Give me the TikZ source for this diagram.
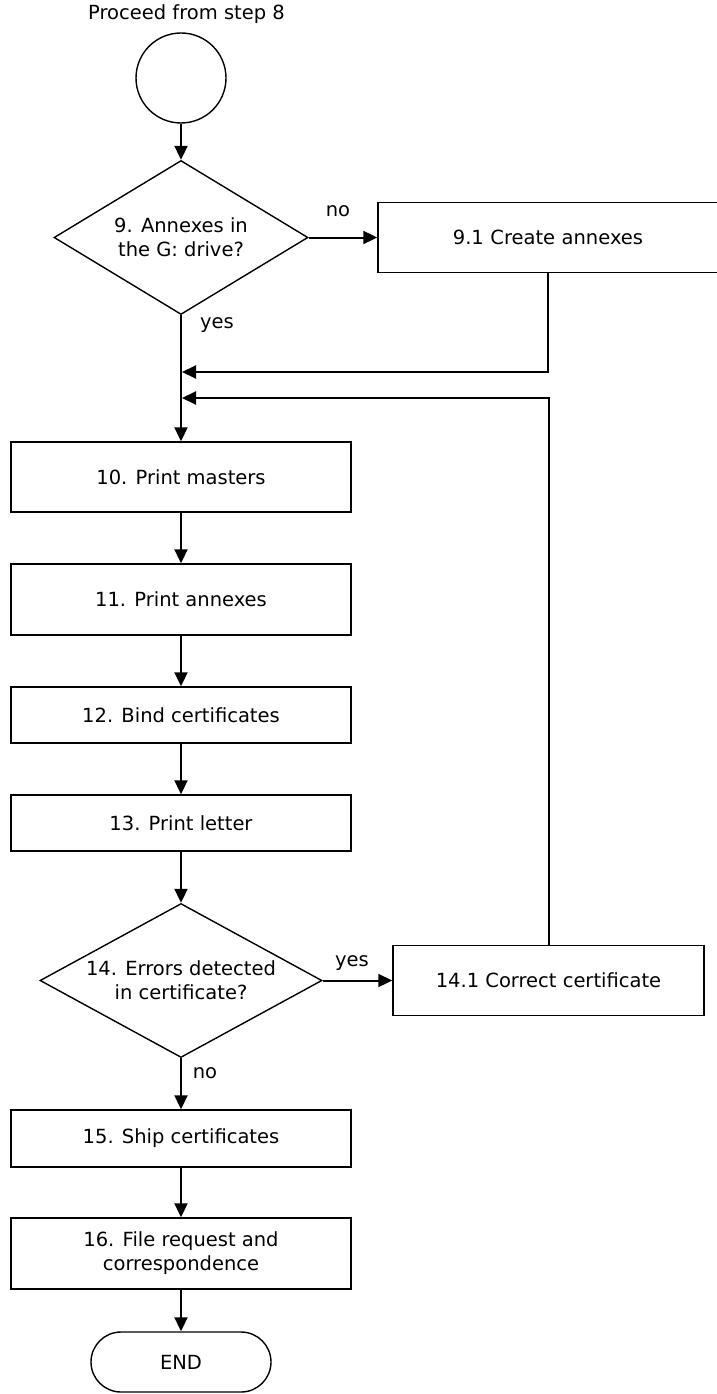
\documentclass[tikz,border=0pt]{standalone}
\usepackage{fontspec}
\setmainfont{DejaVu Sans}
\usetikzlibrary{shapes.geometric,arrows.meta}
\begin{document}
\begin{tikzpicture}[x=1pt,y=-1pt,
  font=\fontsize{19.5}{24}\selectfont,
  stepbox/.style={draw=black,line width=1.4pt,rectangle,inner sep=0pt,align=center},
  decision/.style={draw=black,line width=1.4pt,diamond,inner sep=0pt},
  flow/.style={line width=2pt,-{Triangle[length=14pt,width=13pt]}},
  lbl/.style={inner sep=0pt}]
\useasboundingbox (0,0) rectangle (716,1394);

\node[lbl] (start) at (186.5,14) {Proceed from step 8};
\node[draw=black,line width=1.4pt,circle,minimum size=90pt,inner sep=0pt] (c) at (181,78) {};

\node[decision,minimum width=254pt,minimum height=154pt,
  label={[align=center,font=\fontsize{19.5}{24}\selectfont]center:9. Annexes in\\the G: drive?}] (d9) at (181,237.5) {};
\node[stepbox,minimum width=360pt,minimum height=70pt,text width=340pt] (b91) at (558,237.5) {\hspace*{-20pt}9.1 Create annexes};

\node[stepbox,minimum width=340pt,minimum height=70pt] (b10) at (181,477) {10. Print masters};
\node[stepbox,minimum width=340pt,minimum height=71pt] (b11) at (181,599.5) {11. Print annexes};
\node[stepbox,minimum width=340pt,minimum height=56pt] (b12) at (181,715) {12. Bind certificates};
\node[stepbox,minimum width=340pt,minimum height=56pt] (b13) at (181,823) {13. Print letter};

\node[decision,minimum width=282pt,minimum height=154pt,
  label={[align=center,font=\fontsize{19.5}{24}\selectfont]center:14. Errors detected\\in certificate?}] (d14) at (181,980.5) {};
\node[stepbox,minimum width=311pt,minimum height=70pt] (b141) at (548.5,980.5) {14.1 Correct certificate};

\node[stepbox,minimum width=340pt,minimum height=57pt] (b15) at (181,1138.5) {15. Ship certificates};
\node[stepbox,minimum width=340pt,minimum height=71pt] (b16) at (181,1253.5) {16. File request and\\correspondence};
\node[stepbox,rounded corners=30pt,minimum width=180pt,minimum height=60pt] (end) at (181,1362) {END};

\coordinate (j1) at (182,372);
\coordinate (j2) at (182,398);
\coordinate (b91out) at ([xshift=-10pt]b91.south);

\draw[flow] (c) -- (d9);
\draw[flow] (d9.east) -- (b91.west);
\draw[flow] (d9.south) -- (b10.north);
\draw[flow] (b91out) |- (j1);
\draw[flow] (b141.north) |- (j2);
\draw[flow] (b10) -- (b11);
\draw[flow] (b11) -- (b12);
\draw[flow] (b12) -- (b13);
\draw[flow] (b13) -- (d14.north);
\draw[flow] (d14.east) -- (b141.west);
\draw[flow] (d14.south) -- (b15.north);
\draw[flow] (b15) -- (b16);
\draw[flow] (b16) -- (end);

\node[lbl] (no1) at (338,211) {no};
\node[lbl] (yes1) at (217,325) {yes};
\node[lbl] (yes2) at (352,963) {yes};
\node[lbl] (no2) at (205,1073) {no};
\end{tikzpicture}
\end{document}
